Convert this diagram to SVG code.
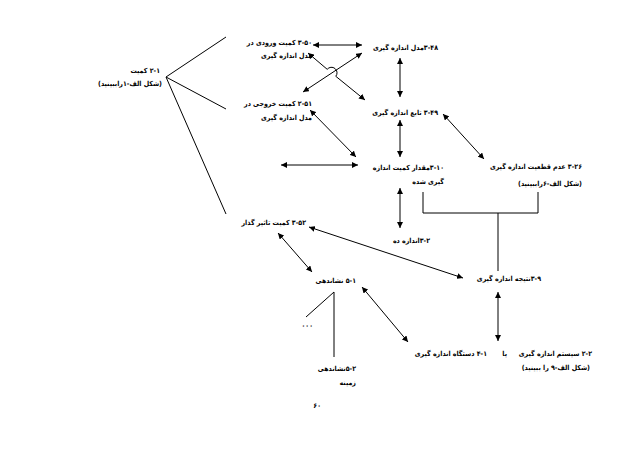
<svg xmlns="http://www.w3.org/2000/svg" width="638" height="452" viewBox="0 0 638 452">
<defs>
<marker id="ah" viewBox="0 0 10 10" refX="10" refY="5" markerWidth="6" markerHeight="6" markerUnits="userSpaceOnUse" orient="auto-start-reverse">
<path d="M0,0 L10,5 L0,10 z" fill="#000"/>
</marker>
<style>
text{font-family:"DejaVu Sans Condensed","DejaVu Sans",sans-serif;font-size:7px;font-weight:bold;fill:#000;direction:rtl;unicode-bidi:embed;text-anchor:start}
.ln{stroke:#000;stroke-width:1;fill:none}
.dbl{stroke:#000;stroke-width:1;fill:none;marker-start:url(#ah);marker-end:url(#ah)}
</style>
</defs>
<rect width="638" height="452" fill="#fff"/>
<g id="connectors">
<line class="ln" x1="166" y1="77" x2="226" y2="37"/>
<line class="ln" x1="166" y1="77" x2="226" y2="109"/>
<line class="ln" x1="166" y1="77" x2="226" y2="214"/>
<line class="dbl" x1="313" y1="45" x2="362" y2="45"/>
<path class="dbl" d="M308,53 L327.2,69.3 A5.5,5.5 0 0 1 335.8,76.3 L365,100"/>
<line class="dbl" x1="362" y1="53" x2="303" y2="92"/>
<line class="dbl" x1="400" y1="58" x2="400" y2="97"/>
<line class="dbl" x1="310" y1="110" x2="356" y2="157"/>
<line class="dbl" x1="281" y1="165" x2="358" y2="165"/>
<line class="dbl" x1="400" y1="120" x2="400" y2="157"/>
<line class="dbl" x1="400" y1="188" x2="400" y2="228"/>
<line class="dbl" x1="443" y1="114" x2="484" y2="159"/>
<polyline class="ln" points="423,192 423,213 538,213 538,192"/>
<line class="ln" x1="498" y1="213" x2="498" y2="271"/>
<line class="dbl" x1="463" y1="278" x2="309" y2="227"/>
<line class="dbl" x1="278" y1="233" x2="312" y2="272"/>
<line class="dbl" x1="498" y1="292" x2="498" y2="341"/>
<line class="dbl" x1="362" y1="287" x2="408" y2="342"/>
<line class="ln" x1="334" y1="292" x2="334" y2="357"/>
<line class="ln" x1="334" y1="292" x2="306" y2="317"/>
</g>
<g id="n-input"><text x="312" y="45">۳-۵۰ کمیت ورودی در</text><text x="312" y="58">مدل اندازه گیری</text></g>
<g id="n-quantity"><text x="160" y="73">۲-۱ کمیت</text><text x="162" y="86">(شکل الف-۱راببینید)</text></g>
<g id="n-output"><text x="312" y="106">۲-۵۱ کمیت خروجی در</text><text x="312" y="120">مدل اندازه گیری</text></g>
<g id="n-model"><text x="438" y="50">۳-۴۸مدل اندازه گیری</text></g>
<g id="n-function"><text x="438" y="115">۳-۴۹ تابع اندازه گیری</text></g>
<g id="n-value"><text x="444" y="170">۳-۱۰مقدار کمیت اندازه</text><text x="444" y="184">گیری شده</text></g>
<g id="n-uncertainty"><text x="582" y="169">۳-۲۶ عدم قطعیت اندازه گیری</text><text x="582" y="186">(شکل الف-۶راببینید)</text></g>
<g id="n-influence"><text x="306" y="225">۳-۵۲ کمیت تاثیر گذار</text></g>
<g id="n-measurand"><text x="430" y="243">۳-۲اندازه ده</text></g>
<g id="n-result"><text x="541" y="281">۳-۹نتیجه اندازه گیری</text></g>
<g id="n-indication"><text x="356" y="283">۵-۱ نشاندهی</text></g>
<g id="n-dots"><text x="313" y="328" style="letter-spacing:3px">۰۰۰</text></g>
<g id="n-blank"><text x="356" y="371">۵-۲نشاندهی</text><text x="356" y="385">زمینه</text></g>
<g id="n-instrument"><text x="487" y="356">۴-۱ دستگاه اندازه گیری</text></g>
<g id="n-or"><text x="507" y="356">یا</text></g>
<g id="n-system"><text x="592" y="356">۲-۲ سیستم اندازه گیری</text><text x="590" y="370">(شکل الف-۹ را ببینید)</text></g>
<g id="page"><text x="321" y="408">۶۰</text></g>
</svg>
